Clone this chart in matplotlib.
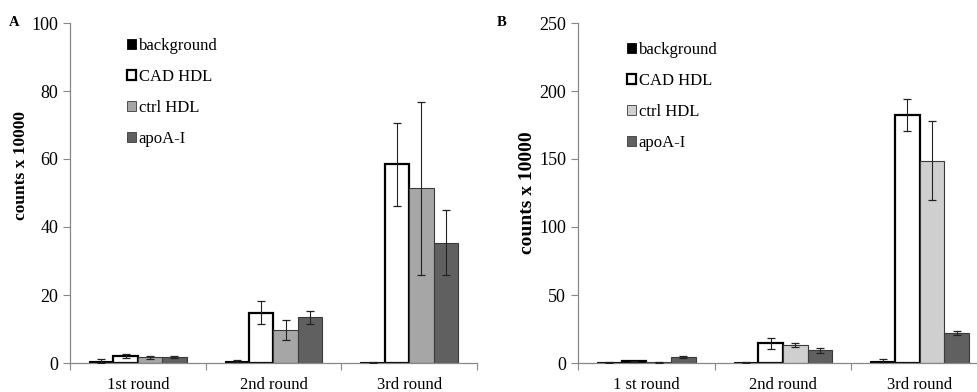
import numpy as np
import matplotlib.pyplot as plt
from matplotlib.patches import Patch

plt.rcParams['font.family'] = ['Liberation Serif', 'DejaVu Serif']

rounds_a = ['1st round', '2nd round', '3rd round']
rounds_b = ['1 st round', '2nd round', '3rd round']
series = ['background', 'CAD HDL', 'ctrl HDL', 'apoA-I']

# panel A values (counts x 10000) and error
a_background = [0.7, 0.6, 0.2]
a_background_err = [0.6, 0.3, 0.1]
a_cad = [2.1, 14.8, 58.4]
a_cad_err = [0.5, 3.4, 12.1]
a_ctrl = [1.7, 9.7, 51.4]
a_ctrl_err = [0.4, 3.0, 25.5]
a_apoa = [1.8, 13.4, 35.4]
a_apoa_err = [0.2, 2.0, 9.5]

# panel B
b_background = [0.5, 0.5, 1.2]
b_background_err = [0.2, 0.3, 1.8]
b_cad = [1.2, 14.5, 182.4]
b_cad_err = [0.3, 4.0, 12.0]
b_ctrl = [0.5, 13.0, 148.8]
b_ctrl_err = [0.2, 1.5, 29.3]
b_apoa = [4.4, 9.3, 22.3]
b_apoa_err = [0.4, 2.0, 1.5]


def draw_panel(ax, vals, errs, colors, labels, ymax, ystep):
    x = np.arange(3) + 0.5
    w = 0.18
    for k in range(4):
        pos = x + (k - 1.5) * w
        lw = 1.6 if k == 1 else 0.8
        ec = 'black' if k < 2 else '#3a3a3a'
        ax.bar(pos, vals[k], width=w, color=colors[k], edgecolor=ec, linewidth=lw, zorder=2)
        ax.errorbar(pos, vals[k], yerr=errs[k], fmt='none', ecolor='#222222',
                    elinewidth=0.8, capsize=2.6, capthick=0.9, zorder=3)
    ax.set_xlim(0, 3)
    ax.set_ylim(0, ymax)
    ax.set_yticks(np.arange(0, ymax + 1, ystep))
    ax.set_xticks([0, 1, 2, 3])
    ax.set_xticklabels([])
    ax.set_xticks(x, minor=True)
    ax.set_xticklabels(labels, minor=True, fontsize=12)
    ax.tick_params(axis='x', which='minor', length=0, pad=10)
    ax.tick_params(axis='x', which='major', length=5, direction='out', color='#888888')
    ax.tick_params(axis='y', length=5, color='#888888', labelsize=13)
    for s in ['top', 'right']:
        ax.spines[s].set_visible(False)
    for s in ['left', 'bottom']:
        ax.spines[s].set_color('#888888')
        ax.spines[s].set_linewidth(0.9)


def legend_for(fig, colors, anchor):
    handles = []
    for k in range(4):
        lw = 1.6 if k == 1 else 0.6
        ec = 'black' if k < 2 else '#3a3a3a'
        handles.append(Patch(facecolor=colors[k], edgecolor=ec, linewidth=lw, label=series[k]))
    fig.legend(handles=handles, loc='upper left', bbox_to_anchor=anchor, frameon=False,
               fontsize=12, handlelength=0.55, handleheight=0.55, handletextpad=0.15,
               labelspacing=0.9, borderpad=0, borderaxespad=0)


fig = plt.figure(figsize=(9.78, 3.92), dpi=100)

colors_a = ['black', 'white', '#a6a6a6', '#606060']
colors_b = ['black', 'white', '#cfcfcf', '#606060']

ax1 = fig.add_axes([70 / 978, 1 - 363 / 392, 407 / 978, 340 / 392])
draw_panel(ax1, [a_background, a_cad, a_ctrl, a_apoa],
           [a_background_err, a_cad_err, a_ctrl_err, a_apoa_err],
           colors_a, rounds_a, 100, 20)

ax2 = fig.add_axes([578 / 978, 1 - 363 / 392, 410 / 978, 340 / 392])
draw_panel(ax2, [b_background, b_cad, b_ctrl, b_apoa],
           [b_background_err, b_cad_err, b_ctrl_err, b_apoa_err],
           colors_b, rounds_b, 250, 50)

fig.text(21 / 978, 1 - 165 / 392, 'counts x 10000', fontsize=12.5, fontweight='bold',
         rotation=90, ha='center', va='center')
fig.text(528 / 978, 1 - 193 / 392, 'counts x 10000', fontsize=14, fontweight='bold',
         rotation=90, ha='center', va='center')

legend_for(fig, colors_a, (127 / 978, 1 - 38 / 392))
legend_for(fig, colors_b, (627 / 978, 1 - 42 / 392))

fig.text(14 / 978, 1 - 22 / 392, 'A', fontsize=10.5, fontweight='bold', ha='center', va='center')
fig.text(502 / 978, 1 - 22 / 392, 'B', fontsize=10.5, fontweight='bold', ha='center', va='center')

fig.savefig('out.png', dpi=100)
